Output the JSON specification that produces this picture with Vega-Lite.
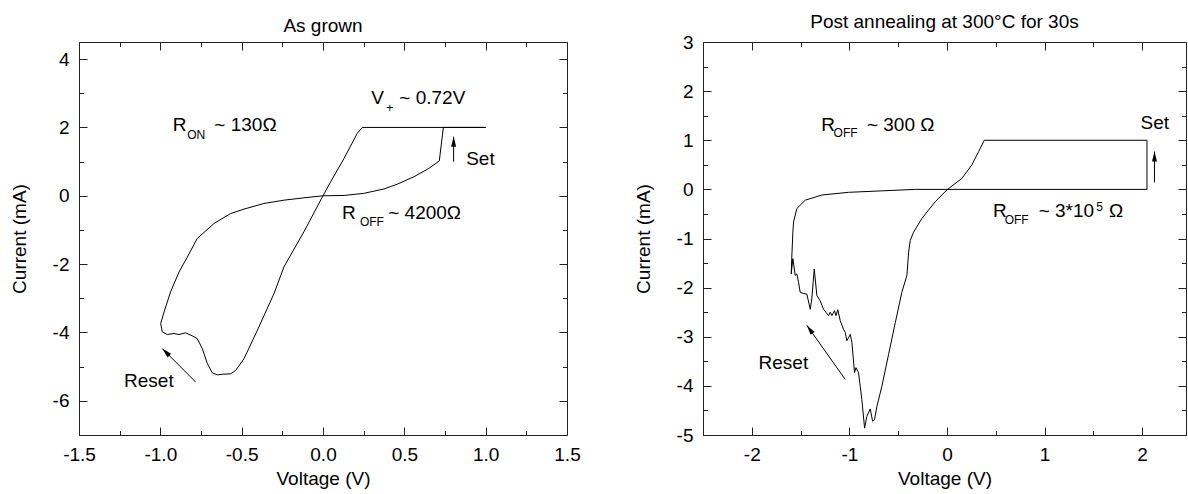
{
  "$schema": "https://vega.github.io/schema/vega-lite/v6.json",
  "background": "white",
  "padding": {"left": 9, "top": 12, "right": 0, "bottom": 0},
  "spacing": 52,
  "config": {
    "font": "Liberation Sans",
    "view": {"stroke": "#222", "strokeWidth": 1},
    "axis": {"domain": false, "grid": false, "tickColor": "#222", "tickWidth": 1, "labelFontSize": 19, "labelColor": "#000", "titleFontSize": 19, "titleFontWeight": "normal", "titleColor": "#000", "labelFlush": false, "labelOverlap": false},
    "title": {"fontSize": 19, "fontWeight": "normal", "color": "#000", "frame": "group"}
  },
  "datasets": {
    "leftCurve": [
      {"i": 1, "v": 0.0, "c": 0.0}, {"i": 2, "v": 0.13, "c": 0.01}, {"i": 3, "v": 0.25, "c": 0.07}, {"i": 4, "v": 0.375, "c": 0.2},
      {"i": 5, "v": 0.457, "c": 0.34}, {"i": 6, "v": 0.56, "c": 0.56}, {"i": 7, "v": 0.65, "c": 0.8}, {"i": 8, "v": 0.715, "c": 1.02},
      {"i": 9, "v": 0.74, "c": 2.0}, {"i": 10, "v": 1.0, "c": 2.0}, {"i": 11, "v": 0.242, "c": 2.0}, {"i": 12, "v": 0.211, "c": 1.83},
      {"i": 13, "v": 0.129, "c": 1.09}, {"i": 14, "v": 0.047, "c": 0.41}, {"i": 15, "v": 0.0, "c": 0.0}, {"i": 16, "v": -0.117, "c": -1.05},
      {"i": 17, "v": -0.24, "c": -2.08}, {"i": 18, "v": -0.301, "c": -2.86}, {"i": 19, "v": -0.404, "c": -3.94}, {"i": 20, "v": -0.486, "c": -4.77},
      {"i": 21, "v": -0.537, "c": -5.11}, {"i": 22, "v": -0.568, "c": -5.21}, {"i": 23, "v": -0.609, "c": -5.22}, {"i": 24, "v": -0.65, "c": -5.24},
      {"i": 25, "v": -0.681, "c": -5.18}, {"i": 26, "v": -0.711, "c": -4.91}, {"i": 27, "v": -0.742, "c": -4.47}, {"i": 28, "v": -0.773, "c": -4.18},
      {"i": 29, "v": -0.803, "c": -4.1}, {"i": 30, "v": -0.845, "c": -4.01}, {"i": 31, "v": -0.885, "c": -4.06}, {"i": 32, "v": -0.916, "c": -4.03},
      {"i": 33, "v": -0.957, "c": -4.06}, {"i": 34, "v": -0.988, "c": -3.98}, {"i": 35, "v": -0.998, "c": -3.74}, {"i": 36, "v": -0.977, "c": -3.4},
      {"i": 37, "v": -0.937, "c": -2.81}, {"i": 38, "v": -0.885, "c": -2.23}, {"i": 39, "v": -0.834, "c": -1.79}, {"i": 40, "v": -0.773, "c": -1.25},
      {"i": 41, "v": -0.67, "c": -0.81}, {"i": 42, "v": -0.568, "c": -0.52}, {"i": 43, "v": -0.486, "c": -0.39}, {"i": 44, "v": -0.363, "c": -0.225},
      {"i": 45, "v": -0.24, "c": -0.128}, {"i": 46, "v": -0.117, "c": -0.06}, {"i": 47, "v": 0.0, "c": 0.0}
    ],
    "leftText": [
      {"x": -0.924, "y": 1.893, "t": "R"}, {"x": -0.668, "y": 1.893, "t": "~ 130Ω"},
      {"x": 0.297, "y": 2.675, "t": "V"}, {"x": 0.469, "y": 2.675, "t": "~ 0.72V"},
      {"x": 0.88, "y": 0.897, "t": "Set"},
      {"x": 0.117, "y": -0.665, "t": "R"}, {"x": 0.401, "y": -0.665, "t": "~ 4200Ω"},
      {"x": -1.223, "y": -5.597, "t": "Reset"}
    ],
    "leftSub": [
      {"x": -0.835, "y": 1.65, "t": "ON"}, {"x": 0.389, "y": 2.45, "t": "+"}, {"x": 0.227, "y": -0.879, "t": "OFF"}
    ],
    "leftArrows": [
      {"x": 0.803, "y": 0.996, "x2": 0.803, "y2": 1.73},
      {"x": -0.783, "y": -5.45, "x2": -0.988, "y2": -4.47}
    ],
    "leftHeadUp": [{"x": 0.803, "y": 1.73}],
    "leftHeadReset": [{"x": -0.988, "y": -4.47}],
    "rightCurve": [
      {"i": 1, "v": 0.0, "c": -0.01}, {"i": 2, "v": -0.119, "c": -0.25}, {"i": 3, "v": -0.256, "c": -0.59}, {"i": 4, "v": -0.342, "c": -0.87},
      {"i": 5, "v": -0.376, "c": -1.04}, {"i": 6, "v": -0.393, "c": -1.28}, {"i": 7, "v": -0.41, "c": -1.75}, {"i": 8, "v": -0.462, "c": -2.095},
      {"i": 9, "v": -0.529, "c": -2.71}, {"i": 10, "v": -0.598, "c": -3.36}, {"i": 11, "v": -0.667, "c": -4.01}, {"i": 12, "v": -0.718, "c": -4.42},
      {"i": 13, "v": -0.742, "c": -4.69}, {"i": 14, "v": -0.762, "c": -4.72}, {"i": 15, "v": -0.786, "c": -4.47}, {"i": 16, "v": -0.821, "c": -4.62},
      {"i": 17, "v": -0.844, "c": -4.86}, {"i": 18, "v": -0.872, "c": -4.28}, {"i": 19, "v": -0.906, "c": -3.73}, {"i": 20, "v": -0.933, "c": -3.63},
      {"i": 21, "v": -0.947, "c": -3.73}, {"i": 22, "v": -0.974, "c": -3.12}, {"i": 23, "v": -0.991, "c": -2.95}, {"i": 24, "v": -1.008, "c": -3.02},
      {"i": 25, "v": -1.026, "c": -3.08}, {"i": 26, "v": -1.042, "c": -2.91}, {"i": 27, "v": -1.06, "c": -2.85}, {"i": 28, "v": -1.094, "c": -2.67},
      {"i": 29, "v": -1.118, "c": -2.45}, {"i": 30, "v": -1.138, "c": -2.57}, {"i": 31, "v": -1.152, "c": -2.47}, {"i": 32, "v": -1.179, "c": -2.57},
      {"i": 33, "v": -1.196, "c": -2.5}, {"i": 34, "v": -1.213, "c": -2.57}, {"i": 35, "v": -1.241, "c": -2.5}, {"i": 36, "v": -1.265, "c": -2.44},
      {"i": 37, "v": -1.299, "c": -2.27}, {"i": 38, "v": -1.333, "c": -2.16}, {"i": 39, "v": -1.36, "c": -1.62}, {"i": 40, "v": -1.385, "c": -2.23},
      {"i": 41, "v": -1.401, "c": -2.44}, {"i": 42, "v": -1.436, "c": -2.13}, {"i": 43, "v": -1.47, "c": -2.12}, {"i": 44, "v": -1.504, "c": -2.095},
      {"i": 45, "v": -1.521, "c": -1.89}, {"i": 46, "v": -1.538, "c": -1.72}, {"i": 47, "v": -1.555, "c": -1.75}, {"i": 48, "v": -1.579, "c": -1.41},
      {"i": 49, "v": -1.596, "c": -1.72}, {"i": 50, "v": -1.59, "c": -1.38}, {"i": 51, "v": -1.579, "c": -0.87}, {"i": 52, "v": -1.572, "c": -0.66},
      {"i": 53, "v": -1.538, "c": -0.39}, {"i": 54, "v": -1.452, "c": -0.22}, {"i": 55, "v": -1.282, "c": -0.115}, {"i": 56, "v": -1.008, "c": -0.06},
      {"i": 57, "v": -0.667, "c": -0.03}, {"i": 58, "v": -0.324, "c": 0.0}, {"i": 59, "v": 2.05, "c": 0.0}, {"i": 60, "v": 2.05, "c": 1.0},
      {"i": 61, "v": 0.383, "c": 1.0}, {"i": 62, "v": 0.325, "c": 0.77}, {"i": 63, "v": 0.256, "c": 0.5}, {"i": 64, "v": 0.154, "c": 0.225},
      {"i": 65, "v": 0.0, "c": -0.01}
    ],
    "rightText": [
      {"x": -1.288, "y": 1.18, "t": "R"}, {"x": -0.82, "y": 1.18, "t": "~ 300 Ω"},
      {"x": 1.984, "y": 1.237, "t": "Set"},
      {"x": 0.472, "y": -0.57, "t": "R"}, {"x": 0.94, "y": -0.57, "t": "~ 3*10"}, {"x": 1.66, "y": -0.57, "t": "Ω"},
      {"x": -1.931, "y": -3.666, "t": "Reset"}
    ],
    "rightSub": [
      {"x": -1.162, "y": 1.06, "t": "OFF"}, {"x": 0.592, "y": -0.7, "t": "OFF"}, {"x": 1.53, "y": -0.45, "t": "5"}
    ],
    "rightArrows": [
      {"x": 2.127, "y": 0.143, "x2": 2.127, "y2": 0.77},
      {"x": -1.042, "y": -3.87, "x2": -1.436, "y2": -2.765}
    ],
    "rightHeadUp": [{"x": 2.127, "y": 0.77}],
    "rightHeadReset": [{"x": -1.436, "y": -2.765}]
  },
  "hconcat": [
    {
      "width": 488,
      "height": 393,
      "title": {"text": "As grown", "offset": 6},
      "layer": [
        {
          "data": {"name": "leftCurve"},
          "mark": {"type": "line", "color": "#000", "strokeWidth": 1},
          "encoding": {
            "x": {"field": "v", "type": "quantitative", "scale": {"domain": [-1.5, 1.5], "nice": false, "zero": false},
              "axis": {"orient": "bottom", "values": [-1.5, -1, -0.5, 0, 0.5, 1, 1.5], "format": ".1f", "labelExpr": "replace(datum.label, '−', '-')", "tickSize": -8, "labelPadding": 18, "title": "Voltage (V)", "titlePadding": 5}},
            "y": {"field": "c", "type": "quantitative", "scale": {"domain": [-7, 4.5], "nice": false, "zero": false},
              "axis": {"orient": "left", "values": [-6, -4, -2, 0, 2, 4], "labelExpr": "replace(datum.label, '−', '-')", "tickSize": -8, "labelPadding": 18, "title": "Current (mA)", "titlePadding": 23}},
            "order": {"field": "i", "type": "quantitative"}
          }
        },
        {
          "data": {"name": "leftText"},
          "mark": {"type": "text", "align": "left", "baseline": "alphabetic", "fontSize": 19, "color": "#000"},
          "encoding": {
            "x": {"field": "x", "type": "quantitative", "axis": {"orient": "top", "values": [-1.5, -1, -0.5, 0, 0.5, 1, 1.5], "labels": false, "tickSize": -8, "title": null}},
            "y": {"field": "y", "type": "quantitative", "axis": {"orient": "right", "values": [-6, -4, -2, 0, 2, 4], "labels": false, "tickSize": -8, "title": null}},
            "text": {"field": "t"}
          }
        },
        {
          "data": {"name": "leftSub"},
          "mark": {"type": "text", "align": "left", "baseline": "alphabetic", "fontSize": 12, "color": "#000"},
          "encoding": {
            "x": {"field": "x", "type": "quantitative", "axis": {"orient": "bottom", "values": [-1.25, -0.75, -0.25, 0.25, 0.75, 1.25], "labels": false, "tickSize": -4.5, "title": null}},
            "y": {"field": "y", "type": "quantitative", "axis": {"orient": "left", "values": [-5, -3, -1, 1, 3], "labels": false, "tickSize": -4.5, "title": null}},
            "text": {"field": "t"}
          }
        },
        {
          "data": {"name": "leftArrows"},
          "mark": {"type": "rule", "color": "#000", "strokeWidth": 1},
          "encoding": {
            "x": {"field": "x", "type": "quantitative", "axis": {"orient": "top", "values": [-1.25, -0.75, -0.25, 0.25, 0.75, 1.25], "labels": false, "tickSize": -4.5, "title": null}},
            "y": {"field": "y", "type": "quantitative", "axis": {"orient": "right", "values": [-5, -3, -1, 1, 3], "labels": false, "tickSize": -4.5, "title": null}},
            "x2": {"field": "x2"},
            "y2": {"field": "y2"}
          }
        },
        {
          "data": {"name": "leftHeadUp"},
          "mark": {"type": "point", "shape": "M0,0L1,4L-1,4Z", "size": 25, "filled": true, "opacity": 1, "color": "#000", "angle": 0},
          "encoding": {
            "x": {"field": "x", "type": "quantitative", "axis": null},
            "y": {"field": "y", "type": "quantitative", "axis": null}
          }
        },
        {
          "data": {"name": "leftHeadReset"},
          "mark": {"type": "point", "shape": "M0,0L1,4L-1,4Z", "size": 25, "filled": true, "opacity": 1, "color": "#000", "angle": 315},
          "encoding": {
            "x": {"field": "x", "type": "quantitative", "axis": null},
            "y": {"field": "y", "type": "quantitative", "axis": null}
          }
        }
      ],
      "resolve": {"axis": {"x": "independent", "y": "independent"}}
    },
    {
      "width": 483,
      "height": 393,
      "title": {"text": "Post annealing at 300°C for 30s", "offset": 1},
      "layer": [
        {
          "data": {"name": "rightCurve"},
          "mark": {"type": "line", "color": "#000", "strokeWidth": 1},
          "encoding": {
            "x": {"field": "v", "type": "quantitative", "scale": {"domain": [-2.5, 2.45], "nice": false, "zero": false},
              "axis": {"orient": "bottom", "values": [-2, -1, 0, 1, 2], "labelExpr": "replace(datum.label, '−', '-')", "tickSize": -8, "labelPadding": 18, "title": "Voltage (V)", "titlePadding": 5}},
            "y": {"field": "c", "type": "quantitative", "scale": {"domain": [-5, 3], "nice": false, "zero": false},
              "axis": {"orient": "left", "values": [-5, -4, -3, -2, -1, 0, 1, 2, 3], "labelExpr": "replace(datum.label, '−', '-')", "tickSize": -8, "labelPadding": 18, "title": "Current (mA)", "titlePadding": 23}},
            "order": {"field": "i", "type": "quantitative"}
          }
        },
        {
          "data": {"name": "rightText"},
          "mark": {"type": "text", "align": "left", "baseline": "alphabetic", "fontSize": 19, "color": "#000"},
          "encoding": {
            "x": {"field": "x", "type": "quantitative", "axis": {"orient": "top", "values": [-2, -1, 0, 1, 2], "labels": false, "tickSize": -8, "title": null}},
            "y": {"field": "y", "type": "quantitative", "axis": {"orient": "right", "values": [-5, -4, -3, -2, -1, 0, 1, 2, 3], "labels": false, "tickSize": -8, "title": null}},
            "text": {"field": "t"}
          }
        },
        {
          "data": {"name": "rightSub"},
          "mark": {"type": "text", "align": "left", "baseline": "alphabetic", "fontSize": 12, "color": "#000"},
          "encoding": {
            "x": {"field": "x", "type": "quantitative", "axis": {"orient": "bottom", "values": [-1.5, -0.5, 0.5, 1.5], "labels": false, "tickSize": -4.5, "title": null}},
            "y": {"field": "y", "type": "quantitative", "axis": {"orient": "left", "values": [-4.5, -3.5, -2.5, -1.5, -0.5, 0.5, 1.5, 2.5], "labels": false, "tickSize": -4.5, "title": null}},
            "text": {"field": "t"}
          }
        },
        {
          "data": {"name": "rightArrows"},
          "mark": {"type": "rule", "color": "#000", "strokeWidth": 1},
          "encoding": {
            "x": {"field": "x", "type": "quantitative", "axis": {"orient": "top", "values": [-1.5, -0.5, 0.5, 1.5], "labels": false, "tickSize": -4.5, "title": null}},
            "y": {"field": "y", "type": "quantitative", "axis": {"orient": "right", "values": [-4.5, -3.5, -2.5, -1.5, -0.5, 0.5, 1.5, 2.5], "labels": false, "tickSize": -4.5, "title": null}},
            "x2": {"field": "x2"},
            "y2": {"field": "y2"}
          }
        },
        {
          "data": {"name": "rightHeadUp"},
          "mark": {"type": "point", "shape": "M0,0L1,4L-1,4Z", "size": 25, "filled": true, "opacity": 1, "color": "#000", "angle": 0},
          "encoding": {
            "x": {"field": "x", "type": "quantitative", "axis": null},
            "y": {"field": "y", "type": "quantitative", "axis": null}
          }
        },
        {
          "data": {"name": "rightHeadReset"},
          "mark": {"type": "point", "shape": "M0,0L1,4L-1,4Z", "size": 25, "filled": true, "opacity": 1, "color": "#000", "angle": 324.6},
          "encoding": {
            "x": {"field": "x", "type": "quantitative", "axis": null},
            "y": {"field": "y", "type": "quantitative", "axis": null}
          }
        }
      ],
      "resolve": {"axis": {"x": "independent", "y": "independent"}}
    }
  ]
}
